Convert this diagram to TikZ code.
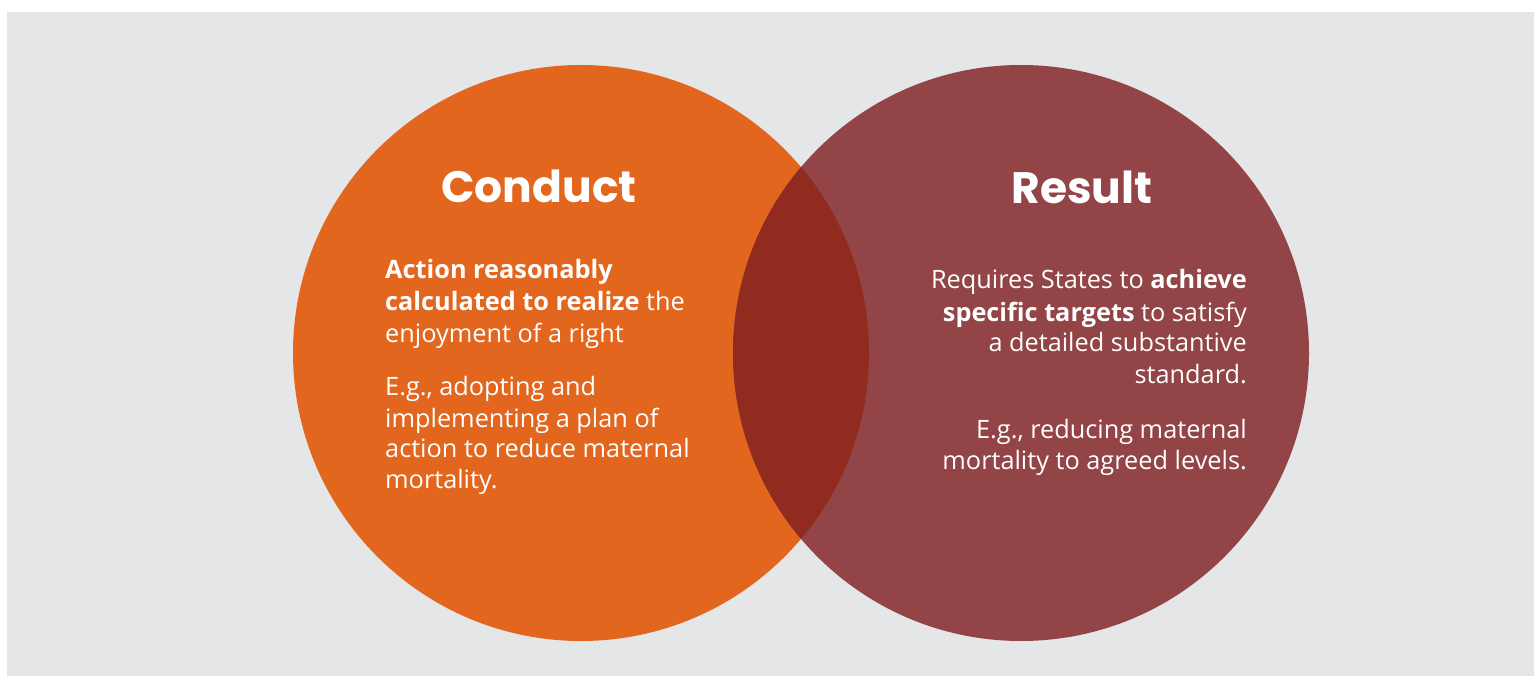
\documentclass[tikz,border=0pt]{standalone}
\usepackage{fontspec}
\setmainfont{Open Sans}
\newfontfamily\titlefont{Poppins}
\definecolor{bg}{HTML}{E5E6E8}
\definecolor{conductc}{HTML}{E3661F}
\definecolor{resultc}{HTML}{924446}
\definecolor{overlapc}{HTML}{912A1F}
\tikzset{
  ttl/.style={text=white, inner sep=0pt, font=\titlefont\bfseries\fontsize{44}{50}\selectfont},
  body/.style={text=white, inner sep=0pt, font=\fontsize{25.3}{31}\selectfont},
}
\begin{document}
\begin{tikzpicture}[x=1pt,y=-1pt]
\useasboundingbox (0,0) rectangle (1534,676);
\fill[white] (0,0) rectangle (1534,676);
\fill[bg] (7,12) rectangle (1534,676);
\fill[conductc] (581,353) circle[radius=288pt];
\fill[resultc] (1021,353) circle[radius=288pt];
\begin{scope}
  \clip (581,353) circle[radius=288pt];
  \fill[overlapc] (1021,353) circle[radius=288pt];
\end{scope}
\node[ttl, anchor=base] (ct) at (539,203) {Conduct};
\node[ttl, anchor=base] (rt) at (1082,204) {Result};
% left text
\node[body, anchor=base west] (l1) at (385,279) {\bfseries Action reasonably};
\node[body, anchor=base west] (l2) at (385,311) {\bfseries calculated to realize\mdseries{} the};
\node[body, anchor=base west] (l3) at (385,342) {enjoyment of a right};
\node[body, anchor=base west] (l4) at (385,395) {E.g., adopting and};
\node[body, anchor=base west] (l5) at (385,427) {implementing a plan of};
\node[body, anchor=base west] (l6) at (385,457) {action to reduce maternal};
\node[body, anchor=base west] (l7) at (385,488) {mortality.};
% right text
\node[body, anchor=base east] (r1) at (1247,289) {Requires States to \bfseries achieve};
\node[body, anchor=base east] (r2) at (1247,321) {\bfseries specific targets\mdseries{} to satisfy};
\node[body, anchor=base east] (r3) at (1247,352) {a detailed substantive};
\node[body, anchor=base east] (r4) at (1247,383) {standard.};
\node[body, anchor=base east] (r5) at (1247,438) {E.g., reducing maternal};
\node[body, anchor=base east] (r6) at (1247,469) {mortality to agreed levels.};
\end{tikzpicture}
\end{document}
